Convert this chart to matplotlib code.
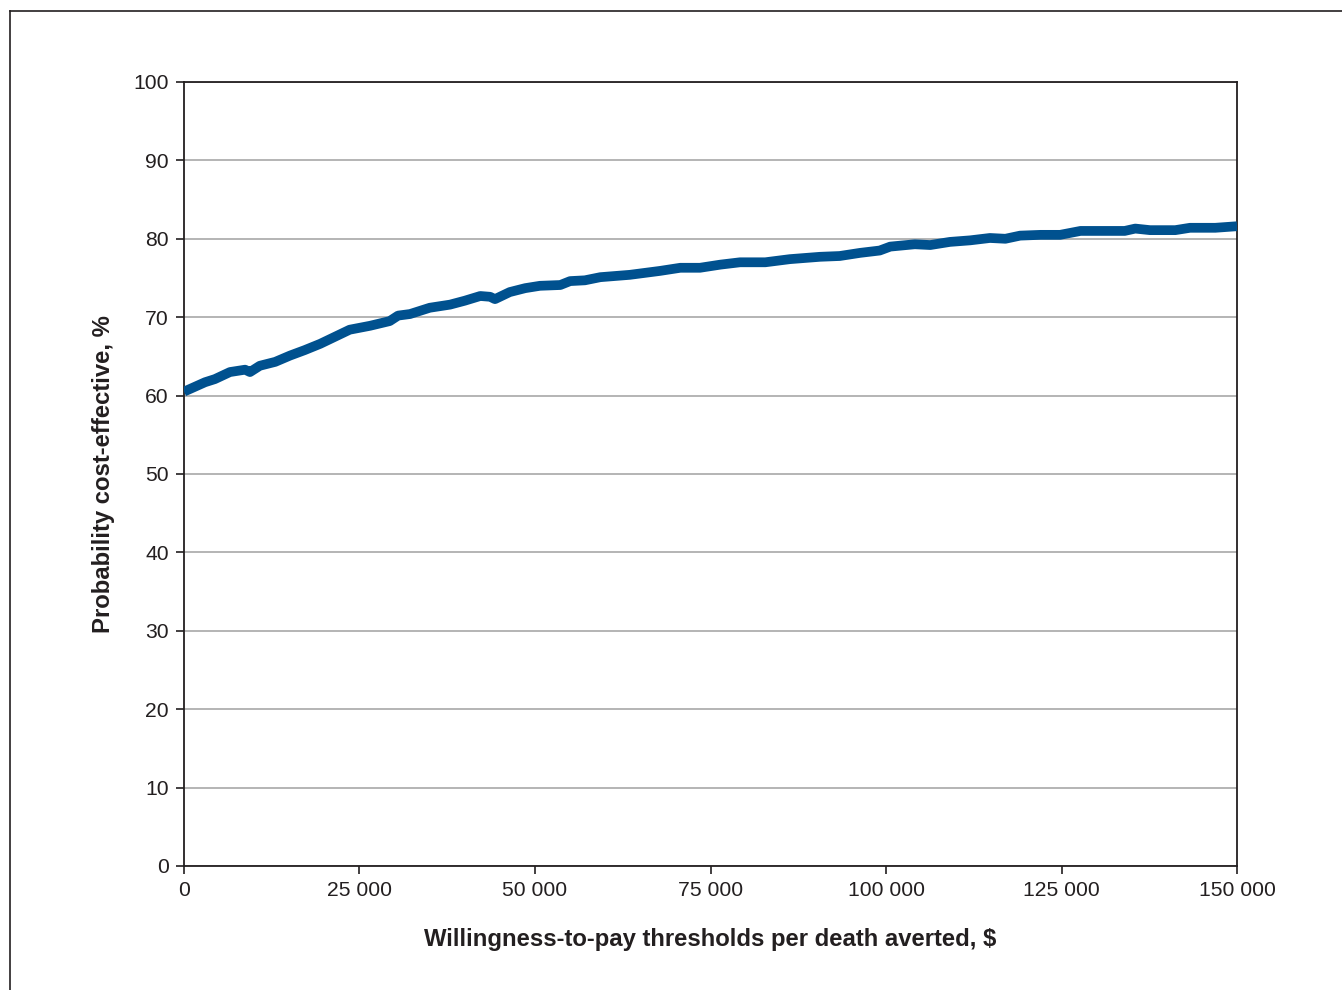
import matplotlib
matplotlib.use("Agg")
from matplotlib import pyplot as plt
from matplotlib.lines import Line2D

plt.rcParams['font.family'] = ['Liberation Sans', 'DejaVu Sans']

## values: willingness to pay ($) and probability (%)
wtp = [0, 3000, 4400, 6550, 8700, 9400, 10800, 13000, 15100, 17200, 19400,
       21500, 23600, 26500, 29300, 30500, 32200, 35000, 37900, 40000, 42200,
       43600, 44300, 46400, 48600, 50700, 53600, 55000, 57100, 59300, 63500,
       67800, 70700, 73500, 76400, 79200, 82800, 86300, 90600, 93400, 96300,
       99100, 100600, 104100, 106300, 109100, 112000, 114800, 117000, 119100,
       122000, 124800, 127700, 130500, 134000, 135500, 137600, 141200, 143300,
       146900, 150000]
prob = [60.5, 61.7, 62.1, 63.0, 63.3, 63.0, 63.8, 64.3, 65.1, 65.8, 66.6,
        67.5, 68.4, 68.9, 69.5, 70.2, 70.4, 71.2, 71.6, 72.1, 72.7,
        72.6, 72.3, 73.2, 73.7, 74.0, 74.1, 74.6, 74.7, 75.1, 75.4,
        75.9, 76.3, 76.3, 76.7, 77.0, 77.0, 77.4, 77.7, 77.8, 78.2,
        78.5, 79.0, 79.3, 79.2, 79.6, 79.8, 80.1, 80.0, 80.4,
        80.5, 80.5, 81.0, 81.0, 81.0, 81.3, 81.1, 81.1, 81.4,
        81.4, 81.6]

x_ticks = [0, 25000, 50000, 75000, 100000, 125000, 150000]
x_tick_labels = ["0", "25 000", "50 000", "75 000", "100 000", "125 000", "150 000"]
y_ticks = list(range(0, 101, 10))

fig = plt.figure(figsize=(13.42, 9.90), dpi=100)
ax = fig.add_axes([0.1371, 0.1253, 0.7847, 0.7919])

ax.plot(wtp, prob, color='#00518f', linewidth=7, solid_capstyle='butt',
        solid_joinstyle='round', zorder=3)

ax.set_xlim(0, 150000)
ax.set_ylim(0, 100)
ax.set_xticks(x_ticks)
ax.set_xticklabels(x_tick_labels)
ax.set_yticks(y_ticks)
ax.yaxis.grid(True, color='#b4b4b4', linewidth=1.4)
ax.set_axisbelow(True)

for spine in ax.spines.values():
  spine.set_linewidth(1.3)
  spine.set_color('#231f20')
ax.tick_params(axis='both', direction='out', length=6, width=1.2,
               color='#231f20', labelsize=15.2, labelcolor='#231f20')
ax.tick_params(axis='y', pad=5)
ax.tick_params(axis='x', pad=5)

ax.set_xlabel('Willingness-to-pay thresholds per death averted, $',
              fontsize=17.2, fontweight='bold', color='#231f20', labelpad=20)
ax.set_ylabel('Probability cost-effective, %', fontsize=17.2,
              fontweight='bold', color='#231f20', labelpad=13)

## outer frame (only the left and top edges show in the picture)
fig.add_artist(Line2D([10 / 1342, 10 / 1342], [0, 1 - 11 / 990],
                      transform=fig.transFigure, color='#231f20', linewidth=1.2))
fig.add_artist(Line2D([10 / 1342, 1], [1 - 11 / 990, 1 - 11 / 990],
                      transform=fig.transFigure, color='#231f20', linewidth=1.2))

fig.savefig('out.png', dpi=100)
